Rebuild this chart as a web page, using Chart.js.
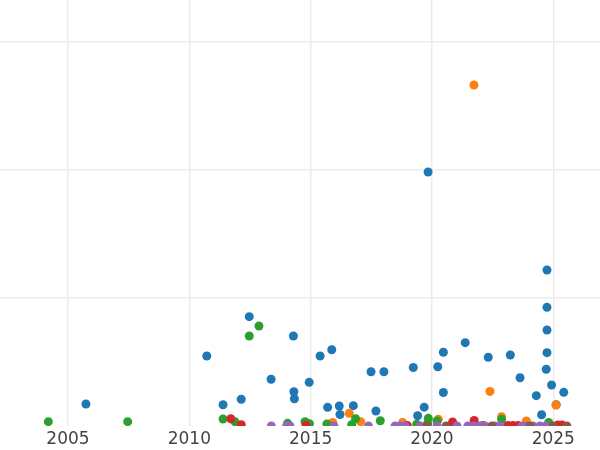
<!DOCTYPE html>
<html>
<head>
<meta charset="utf-8">
<script src="https://cdn.jsdelivr.net/npm/chart.js"></script>
<style>
  html, body { margin: 0; padding: 0; background: #fff; }
  #wrap { width: 600px; height: 450px; }
</style>
</head>
<body>
<div id="wrap"><canvas id="scatterChart" width="600" height="450"></canvas></div>
<script>
// values: [decimal year, value]
const blueSeries = [
    [2005.74, 17.2], [2010.72, 54.7], [2011.39, 16.6], [2012.14, 20.9], [2012.47, 85.4],
    [2013.37, 36.5], [2014.29, 70.3], [2014.31, 26.8], [2014.33, 21.3], [2014.94, 34.1],
    [2015.39, 54.7], [2015.87, 59.6], [2015.70, 14.6], [2016.18, 15.6], [2016.21, 9.0],
    [2016.76, 15.9], [2017.49, 42.4], [2017.69, 11.7], [2018.02, 42.4], [2019.23, 45.7],
    [2019.41, 8.0], [2019.68, 14.7], [2019.84, 198.4], [2020.24, 46.3], [2020.47, 57.6],
    [2020.47, 26.2], [2021.37, 65.1], [2022.32, 53.7], [2023.23, 55.5], [2023.63, 37.7],
    [2024.30, 23.7], [2024.52, 8.8], [2024.74, 121.9], [2024.74, 92.7], [2024.74, 75.0],
    [2024.74, 57.3], [2024.71, 44.3], [2024.93, 32.0], [2025.43, 26.3], [2025.12, 16.6]
];
const orangeSeries = [
    [2021.73, 266.4], [2022.39, 27.0], [2016.59, 9.9], [2017.06, 3.4], [2015.91, 2.7],
    [2018.79, 2.7], [2020.26, 5.3], [2022.87, 7.3], [2023.89, 3.9], [2025.11, 16.4]
];
const greenSeries = [
    [2004.19, 3.4], [2007.46, 3.4], [2012.87, 78.1], [2012.47, 70.3], [2011.39, 5.5],
    [2011.88, 3.4], [2014.05, 2.1], [2014.77, 3.4], [2014.95, 1.8], [2015.67, 1.6],
    [2016.69, 1.0], [2016.85, 5.7], [2017.87, 4.1], [2019.37, 1.3], [2019.85, 6.0],
    [2019.82, 2.1], [2020.21, 3.9], [2022.87, 5.2], [2024.81, 2.7]
];
const redSeries = [
    [2011.71, 5.7], [2012.14, 1.0], [2014.81, 0.6], [2018.98, 0.4], [2020.85, 3.1],
    [2021.74, 4.3], [2022.10, 0.3], [2023.13, 0.4], [2023.34, 0.4], [2023.55, 0.3],
    [2025.19, 0.8], [2025.36, 0.8]
];
const purpleSeries = [
    [2013.38, 0], [2014.01, 0], [2014.15, 0], [2015.96, 0], [2017.38, 0], [2018.48, 0],
    [2018.68, 0], [2018.89, 0], [2019.51, 0], [2020.21, 0], [2021.03, 0], [2021.48, 0],
    [2021.73, 0], [2021.98, 0], [2022.19, 0], [2022.60, 0], [2022.80, 0], [2023.71, 0],
    [2023.92, 0], [2024.16, 0], [2024.45, 0], [2024.70, 0]
];
const brownSeries = [
    [2019.80, 0], [2020.58, 0], [2022.47, 0], [2024.04, 0], [2024.99, 0], [2025.56, 0]
];

const xTicks = [2005, 2010, 2015, 2020, 2025];
const yGrid = [100, 200, 300];

const seriesList = [
    { data: blueSeries, color: '#1f77b4' },
    { data: orangeSeries, color: '#ff7f0e' },
    { data: greenSeries, color: '#2ca02c' },
    { data: redSeries, color: '#d62728' },
    { data: purpleSeries, color: '#9467bd' },
    { data: brownSeries, color: '#8c564b' }
];

const datasets = seriesList.map((s, i) => ({
    data: s.data.map(p => ({ x: p[0], y: p[1] })),
    backgroundColor: s.color,
    borderWidth: 0,
    pointRadius: 4.5,
    pointHoverRadius: 4.5,
    clip: 0,
    // later series sit on top
    order: seriesList.length - i
}));

new Chart(document.getElementById('scatterChart'), {
    type: 'scatter',
    data: { datasets },
    options: {
        responsive: false,
        animation: false,
        events: [],
        layout: { autoPadding: false, padding: 0 },
        plugins: { legend: { display: false }, tooltip: { enabled: false } },
        scales: {
            x: {
                type: 'linear',
                min: 2002.198,
                max: 2026.925,
                afterBuildTicks: axis => { axis.ticks = xTicks.map(v => ({ value: v })); },
                afterFit: axis => { axis.height = 24; },
                border: { display: false },
                grid: { color: '#ebebeb', lineWidth: 1.5, drawTicks: false },
                ticks: {
                    color: '#444',
                    padding: 8,
                    maxRotation: 0,
                    autoSkip: false,
                    font: { family: 'DejaVu Sans', size: 17, lineHeight: 0.67 },
                    callback: v => String(v)
                }
            },
            y: {
                min: 0,
                max: 332.8,
                afterBuildTicks: axis => { axis.ticks = yGrid.map(v => ({ value: v })); },
                border: { display: false },
                grid: { color: '#ebebeb', lineWidth: 1.5, drawTicks: false },
                ticks: { display: false }
            }
        }
    }
});
</script>
</body>
</html>
